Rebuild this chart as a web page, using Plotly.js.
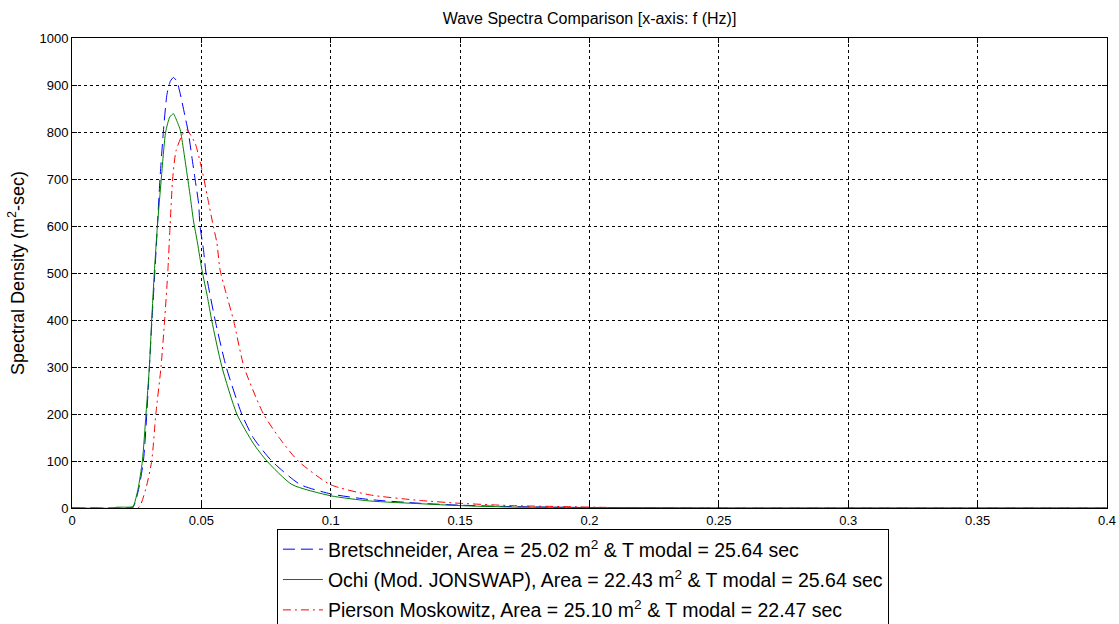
<!DOCTYPE html>
<html>
<head>
<meta charset="utf-8">
<script src="https://cdn.plot.ly/plotly-3.0.1.min.js"></script>
<style>html,body{margin:0;padding:0;background:#fff;}#chart{width:1119px;height:624px;}</style>
</head>
<body>
<div id="chart"></div>
<script>
// Frequencies (Hz) and spectral densities (m^2-sec)
const bretF = [0, 0.015, 0.021, 0.0236, 0.0257, 0.0276, 0.0289, 0.0299, 0.0309, 0.0320, 0.0330, 0.0340, 0.0353, 0.0367, 0.0380, 0.0392, 0.0405, 0.0418, 0.0437, 0.0450, 0.0463, 0.0476, 0.0489, 0.0495, 0.0508, 0.0518, 0.0553, 0.0596, 0.0656, 0.0700, 0.0772, 0.0882, 0.1, 0.115, 0.1346, 0.15, 0.17, 0.2, 0.25, 0.3, 0.35, 0.4];
const bretS = [0, 0, 0, 2, 39, 100, 200, 300, 400, 500, 600, 700, 800, 880, 908, 916, 908, 882, 833, 798, 748, 698, 649, 599, 550, 500, 400, 300, 200, 150, 100, 50, 30, 18, 10, 6, 3, 1, 0, 0, 0, 0];

const ochiF = [0, 0.0165, 0.017, 0.0228, 0.0237, 0.0255, 0.0272, 0.0286, 0.0299, 0.0308, 0.0318, 0.0330, 0.0345, 0.0362, 0.0378, 0.0392, 0.0398, 0.0418, 0.0431, 0.0444, 0.0457, 0.0469, 0.0485, 0.0502, 0.0523, 0.0540, 0.0579, 0.0637, 0.0700, 0.0753, 0.085, 0.1, 0.115, 0.135, 0.15, 0.17, 0.2, 0.25, 0.3, 0.35, 0.4];
const ochiS = [0, 0, 1.5, 2, 4, 40, 100, 200, 300, 400, 500, 600, 700, 800, 832, 839, 833, 805, 762, 713, 663, 613, 564, 507, 450, 399, 301, 200, 138, 100, 50, 26, 15, 9, 5, 2, 1, 0, 0, 0, 0];

const pmF = [0, 0.024, 0.026, 0.0285, 0.0308, 0.0324, 0.0344, 0.0358, 0.0370, 0.0379, 0.0389, 0.0402, 0.0430, 0.0445, 0.0450, 0.0476, 0.0495, 0.0508, 0.0523, 0.0546, 0.0560, 0.0572, 0.0592, 0.0624, 0.0665, 0.0740, 0.0800, 0.0874, 0.0998, 0.115, 0.1346, 0.15, 0.17, 0.19, 0.21, 0.25, 0.3, 0.35, 0.4];
const pmS = [0, 0, 2, 40, 100, 200, 300, 400, 500, 600, 700, 760, 798, 805, 801, 776, 737, 705, 663, 600, 564, 507, 464, 400, 300, 200, 150, 100, 50, 28, 16, 10, 5, 3, 1, 0, 0, 0, 0];

const seriesNames = [
  'Bretschneider, Area = 25.02 m<sup>2</sup> & T modal = 25.64 sec',
  'Ochi (Mod. JONSWAP), Area = 22.43 m<sup>2</sup> & T modal = 25.64 sec',
  'Pierson Moskowitz, Area = 25.10 m<sup>2</sup> & T modal = 22.47 sec'
];

const xTickVals = [0, 0.05, 0.1, 0.15, 0.2, 0.25, 0.3, 0.35, 0.4];
const xTickText = ['0', '0.05', '0.1', '0.15', '0.2', '0.25', '0.3', '0.35', '0.4'];
const yTickVals = [0, 100, 200, 300, 400, 500, 600, 700, 800, 900, 1000];
const yTickText = ['0', '100', '200', '300', '400', '500', '600', '700', '800', '900', '1000'];

const traces = [
  {x: bretF, y: bretS, name: seriesNames[0], legendgroup: 'a', mode: 'lines',
   line: {color: 'rgb(0,0,255)', width: 1, dash: '12px,6px', shape: 'spline', smoothing: 0.6}},
  {x: ochiF, y: ochiS, name: seriesNames[1], legendgroup: 'b', mode: 'lines',
   line: {color: 'rgb(0,128,0)', width: 1, shape: 'spline', smoothing: 0.6}},
  {x: pmF, y: pmS, name: seriesNames[2], legendgroup: 'c', mode: 'lines',
   line: {color: 'rgb(255,0,0)', width: 1, dash: '8px,4px,2px,4px', shape: 'spline', smoothing: 0.6}}
];

const axisCommon = {
  showline: true, linecolor: '#000', linewidth: 1, mirror: 'ticks',
  ticks: 'inside', ticklen: 5, tickcolor: '#000', tickwidth: 1,
  showgrid: true, gridcolor: '#000', gridwidth: 1, griddash: 'dot',
  zeroline: false, tickfont: {family: 'Liberation Sans, Arial, sans-serif', size: 13, color: '#000'},
  tickmode: 'array', automargin: false
};

const layout = {
  width: 1119, height: 624,
  margin: {l: 72, r: 12, t: 38, b: 116},
  paper_bgcolor: '#fff', plot_bgcolor: '#fff',
  title: {text: 'Wave Spectra Comparison [x-axis: f (Hz)]', x: 0.5, xref: 'paper', y: 0.97, yanchor: 'middle',
          font: {family: 'Liberation Sans, Arial, sans-serif', size: 16, color: '#000'}},
  xaxis: Object.assign({}, axisCommon, {range: [0, 0.4], tickvals: xTickVals, ticktext: xTickText}),
  yaxis: Object.assign({}, axisCommon, {range: [0, 1000], tickvals: yTickVals, ticktext: yTickText,
          title: {text: 'Spectral Density (m<sup>2</sup>-sec)', standoff: 10,
                  font: {family: 'Liberation Sans, Arial, sans-serif', size: 18, color: '#000'}}}),
  showlegend: true,
  legend: {x: 0.198, xanchor: 'left', xref: 'paper', y: 1 - 529 / 624, yref: 'container', yanchor: 'top', orientation: 'v',
           bgcolor: '#fff', bordercolor: '#000', borderwidth: 1,
           traceorder: 'grouped', tracegroupgap: 2, itemwidth: 40,
           font: {family: 'Liberation Sans, Arial, sans-serif', size: 19.5, color: '#000'}}
};

Plotly.newPlot('chart', traces, layout, {displayModeBar: false, staticPlot: true});
</script>
</body>
</html>
